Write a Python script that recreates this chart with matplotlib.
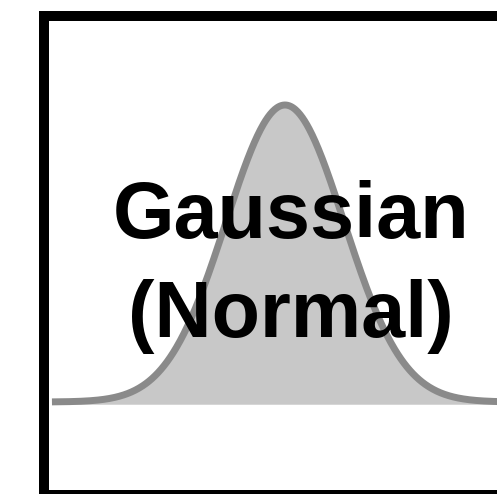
import numpy as np
import matplotlib
matplotlib.use("Agg")
import matplotlib.pyplot as plt
from matplotlib.patches import Rectangle

# Standard normal curve parameters (in standard-deviation units)
mu = 0.0
sigma = 1.0
z_range = [-3.95, 3.8]
title_lines = ["Gaussian", "(Normal)"]

W, H, DPI = 497, 494, 100
fig = plt.figure(figsize=(W / DPI, H / DPI), dpi=DPI)
fig.patch.set_facecolor("white")

ax = fig.add_axes([0, 0, 1, 1])
ax.set_axis_off()

z = np.linspace(z_range[0], z_range[1], 600)
pdf = np.exp(-0.5 * ((z - mu) / sigma) ** 2) / (sigma * np.sqrt(2 * np.pi))

ax.fill_between(z, pdf, -0.003, color="#c8c8c8", linewidth=0, zorder=1)
ax.plot(z, pdf, color="#8a8a8a", linewidth=5.0, solid_capstyle="butt", zorder=2)

# horizontal: 59 px per sd, mean at x=285 px; vertical: peak at 105 px, base at 402 px
px_per_sd = 59.0
px_per_unit = (402 - 105) / pdf.max()
ax.set_xlim((0 - 285) / px_per_sd, (W - 285) / px_per_sd)
ax.set_ylim(-(H - 402) / px_per_unit, 402 / px_per_unit)

# thick black frame running off the right and bottom edges
frame = Rectangle((44 / W, (H - 495) / H), (502 - 44) / W, (495 - 16) / H,
                  transform=fig.transFigure, fill=False, edgecolor="black",
                  linewidth=10 * 72 / DPI, joinstyle="miter", clip_on=False,
                  zorder=5)
fig.add_artist(frame)

for line, base in zip(title_lines, [238, 337]):
    fig.text(291 / W, (H - base) / H, line, ha="center", va="baseline",
             fontsize=57, fontweight="bold", family="Liberation Sans",
             color="black", zorder=6)

fig.savefig("out.png", dpi=DPI, facecolor="white")
